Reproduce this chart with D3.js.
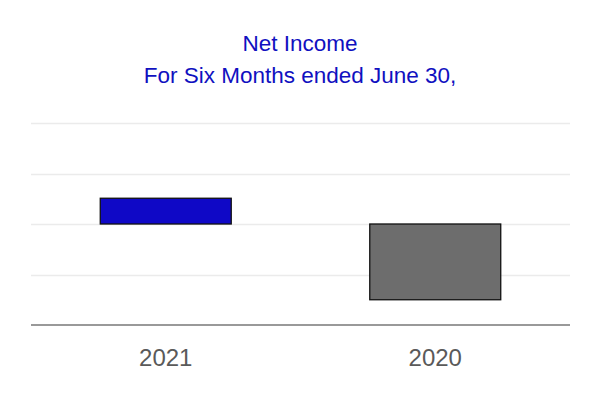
<!DOCTYPE html>
<html>
<head>
<meta charset="utf-8">
<script src="https://cdn.jsdelivr.net/npm/d3@7"></script>
<style>
  html, body { margin: 0; padding: 0; background: #fff; }
  svg { display: block; }
</style>
</head>
<body>
<svg id="chart" width="600" height="400"></svg>
<script>
const categories = ["2021", "2020"];
const values = [5.1, -15];
const colors = ["#0f08c6", "#6d6d6d"];
const yTicks = [-20, -10, 0, 10, 20];
const titleLines = ["Net Income", "For Six Months ended June 30,"];

const svg = d3.select("#chart");
const margin = { left: 31, right: 30, top: 122, bottom: 75 };
const W = 600, H = 400;

const x = d3.scaleBand().domain(categories)
  .range([margin.left, W - margin.right])
  .paddingInner(0.514).paddingOuter(0.257);
const y = d3.scaleLinear().domain([-20, 20]).range([325, 123]);

// gridlines
svg.append("g").selectAll("line").data(yTicks.filter(d => d !== -20)).join("line")
  .attr("x1", margin.left).attr("x2", W - margin.right)
  .attr("y1", d => Math.round(y(d)) + 0.5).attr("y2", d => Math.round(y(d)) + 0.5)
  .attr("stroke", "#ebebeb").attr("stroke-width", 1.4);

// bars
svg.append("g").selectAll("rect").data(categories).join("rect")
  .attr("x", d => x(d))
  .attr("width", x.bandwidth())
  .attr("y", (d, i) => y(Math.max(0, values[i])))
  .attr("height", (d, i) => Math.abs(y(values[i]) - y(0)))
  .attr("fill", (d, i) => colors[i])
  .attr("stroke", "#111").attr("stroke-width", 1.3);

// x axis
const xAxis = svg.append("g")
  .attr("transform", `translate(0,${y(-20)})`)
  .call(d3.axisBottom(x).tickSize(0).tickPadding(24));
xAxis.select(".domain").attr("stroke", "#999").attr("stroke-width", 1.8)
  .attr("d", `M${margin.left},0H${W - margin.right}`);
xAxis.selectAll("text")
  .attr("font-family", "Liberation Sans, Arial, sans-serif")
  .attr("font-size", 24).attr("fill", "#5a5a5a");

// title
svg.append("g").selectAll("text").data(titleLines).join("text")
  .attr("x", 300).attr("y", (d, i) => 51 + i * 32)
  .attr("text-anchor", "middle")
  .attr("font-family", "Liberation Sans, Arial, sans-serif")
  .attr("font-size", 22.5).attr("fill", "#1010c0")
  .text(d => d);
</script>
</body>
</html>
